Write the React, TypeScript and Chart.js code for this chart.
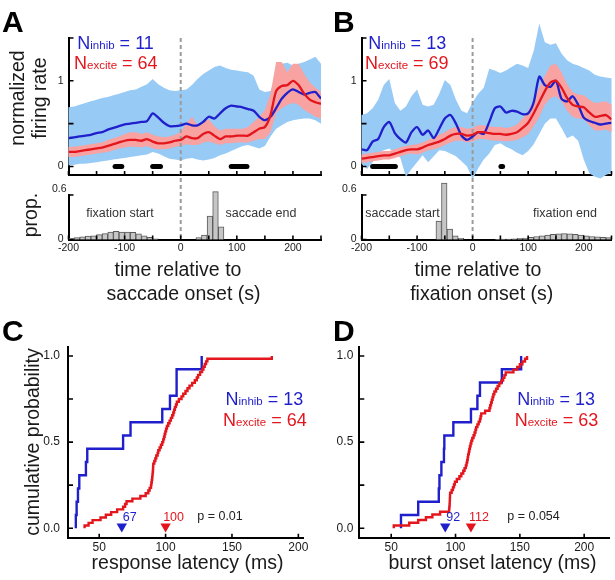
import React, { useEffect, useRef } from "react";
import { Chart, registerables } from "chart.js";

Chart.register(...registerables);

const PAGE_W = 615;
const PAGE_H = 580;
const FONT = '"Liberation Sans", Arial, Helvetica, sans-serif';
Chart.defaults.font.family = FONT;

const BLUE = "#1f1fcc";
const RED = "#e3161d";
const BAND_BLUE = "rgb(152,202,246)";
const BAND_RED = "rgb(248,162,162)";

// ---------------- A / B : population time courses ----------------
const TIME = [-200, -190, -180, -170, -160, -150, -140, -130, -120, -110, -100, -90, -80, -70, -60, -50, -40, -30, -20, -10, 0,
  10, 20, 30, 40, 50, 60, 70, 80, 90, 100, 110, 120, 130, 140, 150, 160, 170, 180, 190, 200, 210, 220, 230, 240, 250];

const INH_A = [0.33, 0.34, 0.35, 0.36, 0.37, 0.39, 0.40, 0.43, 0.45, 0.47, 0.49, 0.50, 0.51, 0.52, 0.53, 0.62, 0.57, 0.51, 0.47, 0.47, 0.48,
  0.50, 0.48, 0.48, 0.52, 0.58, 0.56, 0.62, 0.68, 0.71, 0.70, 0.69, 0.67, 0.65, 0.58, 0.54, 0.58, 0.68, 0.79, 0.86, 0.90, 0.87, 0.84, 0.86, 0.87, 0.79];
const INH_A_HI = [0.69, 0.70, 0.72, 0.74, 0.76, 0.78, 0.80, 0.81, 0.83, 0.85, 0.87, 0.89, 0.90, 0.93, 0.96, 1.02, 0.96, 0.92, 0.89, 0.88, 0.89,
  0.90, 0.95, 1.02, 1.08, 1.12, 1.16, 1.18, 1.15, 1.13, 1.12, 1.11, 1.10, 1.06, 0.90, 0.87, 0.88, 1.05, 1.20, 1.21, 1.18, 1.20, 1.22, 1.25, 1.28, 1.20];
const INH_A_LO = [0.01, 0.02, 0.03, 0.03, 0.04, 0.05, 0.06, 0.07, 0.08, 0.09, 0.10, 0.11, 0.12, 0.13, 0.14, 0.17, 0.15, 0.12, 0.09, 0.08, 0.07,
  0.09, 0.10, 0.08, 0.07, 0.08, 0.10, 0.13, 0.15, 0.18, 0.21, 0.24, 0.25, 0.23, 0.21, 0.24, 0.35, 0.44, 0.48, 0.52, 0.54, 0.55, 0.56, 0.56, 0.54, 0.50];
const EXC_A = [0.17, 0.17, 0.18, 0.19, 0.20, 0.21, 0.22, 0.24, 0.26, 0.28, 0.30, 0.31, 0.31, 0.30, 0.32, 0.29, 0.27, 0.27, 0.28, 0.30, 0.31,
  0.35, 0.33, 0.33, 0.38, 0.40, 0.36, 0.32, 0.35, 0.35, 0.36, 0.36, 0.36, 0.40, 0.44, 0.46, 0.60, 0.88, 0.94, 0.95, 1.00, 0.95, 0.85, 0.78, 0.75, 0.73];
const EXC_A_HI = [0.23, 0.23, 0.24, 0.25, 0.26, 0.27, 0.28, 0.31, 0.33, 0.35, 0.38, 0.40, 0.40, 0.38, 0.40, 0.37, 0.35, 0.34, 0.35, 0.37, 0.40,
  0.50, 0.58, 0.48, 0.52, 0.55, 0.47, 0.42, 0.44, 0.44, 0.44, 0.44, 0.46, 0.52, 0.58, 0.66, 0.85, 1.22, 1.22, 1.10, 1.20, 1.20, 1.08, 0.98, 0.92, 0.87];
const EXC_A_LO = [0.11, 0.11, 0.12, 0.13, 0.14, 0.15, 0.16, 0.17, 0.19, 0.21, 0.22, 0.23, 0.23, 0.22, 0.24, 0.21, 0.20, 0.20, 0.21, 0.23, 0.24,
  0.26, 0.25, 0.25, 0.28, 0.29, 0.27, 0.25, 0.27, 0.27, 0.28, 0.28, 0.28, 0.30, 0.32, 0.32, 0.40, 0.62, 0.68, 0.72, 0.74, 0.72, 0.66, 0.62, 0.58, 0.56];

const INH_B = [0.20, 0.19, 0.29, 0.32, 0.46, 0.52, 0.39, 0.32, 0.28, 0.40, 0.46, 0.37, 0.42, 0.33, 0.44, 0.56, 0.60, 0.50, 0.36, 0.31, 0.35,
  0.40, 0.38, 0.52, 0.68, 0.70, 0.63, 0.65, 0.64, 0.61, 0.62, 0.75, 1.05, 0.95, 0.93, 1.00, 0.79, 0.76, 0.82, 0.72, 0.57, 0.53, 0.51, 0.49, 0.50, 0.51];
const INH_B_HI = [0.60, 0.62, 0.68, 0.78, 0.95, 1.02, 0.74, 0.65, 0.70, 0.82, 0.90, 0.72, 0.70, 0.72, 0.85, 1.01, 0.95, 0.78, 0.65, 0.62, 0.75,
  0.85, 0.92, 1.14, 1.12, 1.09, 1.12, 1.16, 1.20, 1.18, 1.15, 1.35, 1.67, 1.45, 1.42, 1.44, 1.32, 1.24, 1.20, 1.18, 1.15, 1.12, 1.07, 1.05, 1.04, 1.03];
const INH_B_LO = [0.03, -0.03, 0.05, 0.15, 0.19, 0.21, 0.16, 0.10, -0.12, -0.03, 0.05, 0.13, 0.05, 0.12, 0.19, 0.18, 0.15, 0.12, 0.06, 0.00, -0.15,
  -0.02, 0.08, 0.15, 0.25, 0.27, 0.23, 0.20, 0.16, 0.13, 0.18, 0.26, 0.38, 0.50, 0.56, 0.56, 0.45, 0.33, 0.36, 0.30, 0.08, -0.08, -0.12, -0.14, -0.10, -0.07];
const EXC_B = [0.09, 0.10, 0.11, 0.12, 0.13, 0.13, 0.15, 0.17, 0.19, 0.20, 0.20, 0.22, 0.25, 0.27, 0.29, 0.32, 0.36, 0.38, 0.38, 0.36, 0.37,
  0.40, 0.40, 0.39, 0.38, 0.38, 0.37, 0.38, 0.40, 0.45, 0.51, 0.62, 0.75, 0.88, 0.98, 1.00, 0.92, 0.80, 0.72, 0.70, 0.69, 0.63, 0.58, 0.59, 0.60, 0.55];
const EXC_B_HI = [0.14, 0.15, 0.16, 0.17, 0.18, 0.18, 0.20, 0.22, 0.24, 0.25, 0.26, 0.28, 0.31, 0.34, 0.37, 0.40, 0.44, 0.46, 0.46, 0.44, 0.45,
  0.48, 0.48, 0.47, 0.46, 0.46, 0.45, 0.46, 0.49, 0.56, 0.65, 0.78, 0.92, 1.06, 1.18, 1.20, 1.10, 0.96, 0.87, 0.84, 0.83, 0.78, 0.74, 0.75, 0.76, 0.72];
const EXC_B_LO = [0.04, 0.05, 0.06, 0.07, 0.08, 0.08, 0.10, 0.12, 0.14, 0.15, 0.14, 0.16, 0.19, 0.20, 0.22, 0.25, 0.28, 0.30, 0.30, 0.28, 0.29,
  0.32, 0.32, 0.31, 0.30, 0.30, 0.29, 0.30, 0.31, 0.34, 0.38, 0.47, 0.58, 0.72, 0.80, 0.82, 0.76, 0.65, 0.58, 0.56, 0.55, 0.48, 0.42, 0.42, 0.43, 0.40];

// significant-difference epochs (ms)
const SIG_A = [[-117, -105], [-50, -36], [90, 118]];
const SIG_B = [[-180, -139], [51, 54]];
const SIG_Y = 0.0;

// ---------------- histograms ----------------
const HIST_A_T = [-195, -185, -175, -165, -155, -145, -135, -125, -115, -105, -95, -85, -75, -65, -55, -45, 32, 42, 52, 62, 72];
const HIST_A_P = [0.015, 0.025, 0.035, 0.045, 0.05, 0.065, 0.08, 0.1, 0.11, 0.1, 0.1, 0.095, 0.075, 0.05, 0.03, 0.01, 0.027, 0.058, 0.316, 0.645, 0.17];
const HIST_B_T = [-61, -51, -41, -31, -21, 45, 55, 65, 75, 85, 95, 105, 115, 125, 135, 145, 155, 165, 175, 185, 195, 205, 215, 225, 235, 245];
const HIST_B_P = [0.25, 0.76, 0.14, 0.05, 0.015, 0.003, 0.005, 0.007, 0.01, 0.015, 0.02, 0.03, 0.04, 0.05, 0.06, 0.07, 0.075, 0.08, 0.075, 0.07, 0.06, 0.05, 0.04, 0.035, 0.03, 0.025];

// ---------------- C / D : latency distributions (ms) ----------------
const INH_LAT_C = [32.4, 33, 34, 35, 40, 41, 68, 73.6, 97.5, 103.3, 108.3, 108.3, 127.2];
const EXC_LAT_C = [39, 42, 45, 51, 55, 59, 63.5, 68, 69.5, 70.6, 75, 81, 85, 87, 88, 89, 89.3, 89.6, 89.9, 90.1, 90.3, 90.5, 90.6, 90.7,
  91.5, 92.3, 93, 94, 94.5, 95.5, 96.5, 97.5, 98.2, 98.8, 99.3, 99.8, 100.4, 101, 102, 103, 104, 105, 105.8, 106.4, 107, 107.8, 108.5,
  110, 112, 113.3, 115, 116.5, 118, 120, 122, 123.5, 124.5, 126, 127.5, 128.5, 129.5, 130.5, 131.5, 180];
const INH_LAT_D = [57.6, 71, 87, 87.5, 89, 91, 91.3, 98.3, 112, 117, 119, 136, 151];
const EXC_LAT_D = [52, 64, 71, 77, 82, 88, 95, 95.2, 95.4, 95.5, 95.6, 95.7, 95.8, 97, 98, 98.8, 99.5, 101, 103, 104.5, 106, 107, 108,
  108.6, 109.1, 109.5, 109.8, 110.3, 110.7, 111.2, 111.7, 112.3, 113, 114, 114.8, 115.5, 116, 117, 118, 119, 119.5, 120, 123, 126.4,
  127, 127.6, 128.2, 128.8, 129.4, 130.2, 131.5, 132.7, 134, 135.5, 137, 138, 139, 145, 148, 150, 152, 154, 155.6];
const MEDIANS_C = [67, 100];
const MEDIANS_D = [92, 112];
const MARK_Y = 0.01;

// ---------------- tick lists ----------------
const T_TICKS = [-200, -150, -100, -50, 0, 50, 100, 150, 200, 250];
const T_LABELS = [-200, -100, 0, 100, 200];
const RATE_TICKS = [0, 0.5, 1, 1.5];
const RATE_LABELS = [0, 1];
const PROP_TICKS = [0, 0.6];
const LAT_TICKS = [50, 100, 150, 200];
const CUM_TICKS = [0, 0.25, 0.5, 0.75, 1];
const CUM_LABELS = [0, 0.5, 1];

type Area = { left: number; top: number; right: number; bottom: number };
const AREA_A_TOP: Area = { left: 68.5, top: 38, right: 321, bottom: 175 };
const AREA_B_TOP: Area = { left: 361.5, top: 38, right: 611.5, bottom: 175 };
const AREA_A_HIST: Area = { left: 68.5, top: 195, right: 321, bottom: 239.5 };
const AREA_B_HIST: Area = { left: 361.5, top: 195, right: 611.5, bottom: 239.5 };
const AREA_C: Area = { left: 68, top: 346.7, right: 303, bottom: 537.7 };
const AREA_D: Area = { left: 359.3, top: 346.7, right: 613.3, bottom: 537.7 };

// fixed box sizes of the axes so that the plotting area lands exactly on the Area
const Y_AXIS_W = 34;
const X_AXIS_H = 18;

function baseOptions(a: Area) {
  return {
    responsive: false,
    animation: false,
    devicePixelRatio: 1,
    events: [],
    layout: {
      padding: {
        left: a.left - Y_AXIS_W,
        top: a.top,
        right: PAGE_W - a.right,
        bottom: PAGE_H - a.bottom - X_AXIS_H,
      },
    },
    plugins: { legend: { display: false }, tooltip: { enabled: false } },
  };
}

function axis(horizontal: boolean, min: number, max: number, tickVals: number[], show: boolean,
  fmt: (v: number) => string, size: number, pad: number) {
  return {
    type: "linear",
    min,
    max,
    offset: false,
    z: 1,
    grid: { display: false, drawTicks: false },
    border: { display: true, color: "#000", width: 2 },
    ticks: {
      display: show,
      autoSkip: false,
      maxRotation: 0,
      minRotation: 0,
      padding: pad,
      color: "#1a1a1a",
      font: { family: FONT, size },
      callback: (v: number) => fmt(v),
    },
    afterBuildTicks: (ax: any) => {
      ax.ticks = tickVals.map((v) => ({ value: v }));
    },
    afterFit: (ax: any) => {
      if (horizontal) ax.height = X_AXIS_H;
      else ax.width = Y_AXIS_W;
      ax.paddingLeft = 0;
      ax.paddingRight = 0;
      ax.paddingTop = 0;
      ax.paddingBottom = 0;
    },
  };
}

function inwardTicks(xt: number[], yt: number[], len = 4) {
  return {
    id: "inwardTicks",
    afterDraw(chart: any) {
      const { ctx, chartArea: a } = chart;
      const xs = chart.scales.x;
      const ys = chart.scales.y;
      ctx.save();
      ctx.strokeStyle = "#000";
      ctx.lineWidth = 1.6;
      ctx.beginPath();
      for (const v of xt) {
        const px = xs.getPixelForValue(v);
        ctx.moveTo(px, a.bottom);
        ctx.lineTo(px, a.bottom - len);
      }
      for (const v of yt) {
        const py = ys.getPixelForValue(v);
        ctx.moveTo(a.left, py);
        ctx.lineTo(a.left + len + 1, py);
      }
      ctx.stroke();
      ctx.restore();
    },
  };
}

function bandsPlugin(bands: { hi: number[]; lo: number[]; color: string }[], zeroExt: number) {
  return {
    id: "bands",
    beforeDatasetsDraw(chart: any) {
      const { ctx, chartArea: a } = chart;
      const xs = chart.scales.x;
      const ys = chart.scales.y;
      ctx.save();
      for (const b of bands) {
        ctx.beginPath();
        TIME.forEach((t, i) => {
          const px = xs.getPixelForValue(t);
          const py = ys.getPixelForValue(b.hi[i]);
          if (i === 0) ctx.moveTo(px, py);
          else ctx.lineTo(px, py);
        });
        for (let i = TIME.length - 1; i >= 0; i--) {
          ctx.lineTo(xs.getPixelForValue(TIME[i]), ys.getPixelForValue(b.lo[i]));
        }
        ctx.closePath();
        ctx.fillStyle = b.color;
        ctx.fill();
      }
      const zx = xs.getPixelForValue(0);
      ctx.beginPath();
      ctx.setLineDash([4, 3]);
      ctx.strokeStyle = "#9b9b9b";
      ctx.lineWidth = 2;
      ctx.moveTo(zx, a.top);
      ctx.lineTo(zx, a.bottom + zeroExt);
      ctx.stroke();
      ctx.restore();
    },
  };
}

function medianLabels(meds: number[], colors: string[]) {
  return {
    id: "medianLabels",
    afterDatasetsDraw(chart: any) {
      const { ctx } = chart;
      const xs = chart.scales.x;
      const ys = chart.scales.y;
      ctx.save();
      ctx.font = `12.5px ${FONT}`;
      ctx.textAlign = "center";
      ctx.textBaseline = "alphabetic";
      meds.forEach((m, i) => {
        ctx.fillStyle = colors[i];
        ctx.fillText(String(m), xs.getPixelForValue(m) + 8, ys.getPixelForValue(MARK_Y) - 6);
      });
      ctx.restore();
    },
  };
}

const line = (xs: number[], ys: number[]) => ys.map((v, i) => ({ x: xs[i], y: v }));

function topConfig(a: Area, inh: number[], inhHi: number[], inhLo: number[], exc: number[], excHi: number[], excLo: number[], sig: number[][]) {
  return {
    type: "line",
    data: {
      datasets: [
        { data: line(TIME, exc), borderColor: RED, borderWidth: 2.3, pointRadius: 0, tension: 0.25, order: 0 },
        { data: line(TIME, inh), borderColor: BLUE, borderWidth: 2.3, pointRadius: 0, tension: 0.25, order: 1 },
        ...sig.map(([s, e]) => ({
          data: [{ x: s, y: SIG_Y }, { x: e, y: SIG_Y }],
          borderColor: "#000",
          borderWidth: 5,
          borderCapStyle: "round",
          pointRadius: 0,
          order: 2,
        })),
      ],
    },
    options: {
      ...baseOptions(a),
      scales: {
        x: axis(true, -200, 250, [-200, 250], false, (v) => String(v), 10.5, 2),
        y: axis(false, -0.1, 1.5, RATE_LABELS, true, (v) => String(v), 10.5, 5),
      },
    },
    plugins: [
      bandsPlugin([{ hi: inhHi, lo: inhLo, color: BAND_BLUE }, { hi: excHi, lo: excLo, color: BAND_RED }], 65),
      inwardTicks(T_TICKS, RATE_TICKS),
    ],
  };
}

function histConfig(a: Area, centers: number[], vals: number[]) {
  return {
    type: "bar",
    data: {
      datasets: [
        {
          data: line(centers, vals),
          backgroundColor: "#c6c6c6",
          borderColor: "#5a5a5a",
          borderWidth: 1,
          barPercentage: 1,
          categoryPercentage: 1,
          clip: false,
        },
      ],
    },
    options: {
      ...baseOptions(a),
      scales: {
        x: axis(true, -200, 250, T_LABELS, true, (v) => String(v), 10.5, 2),
        y: axis(false, 0, 0.6, [0], true, (v) => String(v), 10.5, 5),
      },
    },
    plugins: [inwardTicks(T_TICKS, PROP_TICKS)],
  };
}

function ecdf(lat: number[]) {
  return [{ x: lat[0], y: 0 }, ...lat.map((l, i) => ({ x: l, y: (i + 1) / lat.length }))];
}

function cdfConfig(a: Area, xmin: number, xmax: number, inhLat: number[], excLat: number[], meds: number[], yPad: number) {
  return {
    type: "line",
    data: {
      datasets: [
        { data: ecdf(excLat), borderColor: RED, borderWidth: 2.4, pointRadius: 0, stepped: "before", order: 1 },
        { data: ecdf(inhLat), borderColor: BLUE, borderWidth: 2.4, pointRadius: 0, stepped: "before", order: 2 },
        {
          data: meds.map((m) => ({ x: m, y: MARK_Y })),
          showLine: false,
          pointStyle: "triangle",
          rotation: 180,
          pointRadius: 6,
          borderWidth: 0,
          pointBackgroundColor: [BLUE, RED],
          pointBorderColor: [BLUE, RED],
          clip: false,
          order: 0,
        },
      ],
    },
    options: {
      ...baseOptions(a),
      scales: {
        x: axis(true, xmin, xmax, LAT_TICKS, true, (v) => String(v), 12, 3),
        y: axis(false, -0.055, 1.054, CUM_LABELS, true, (v) => v.toFixed(1), 12, yPad),
      },
    },
    plugins: [inwardTicks(LAT_TICKS, CUM_TICKS), medianLabels(meds, [BLUE, RED])],
  };
}

function ChartLayer({ make }: { make: () => any }) {
  const ref = useRef<HTMLCanvasElement>(null);
  useEffect(() => {
    if (!ref.current) return;
    const chart = new Chart(ref.current, make());
    return () => chart.destroy();
  }, []);
  return (
    <canvas
      ref={ref}
      width={PAGE_W}
      height={PAGE_H}
      style={{ position: "absolute", left: 0, top: 0, width: PAGE_W, height: PAGE_H }}
    />
  );
}

type TxtProps = {
  x: number;
  y: number;
  size: number;
  color?: string;
  align?: "left" | "center" | "right";
  bold?: boolean;
  children: React.ReactNode;
};
function Txt({ x, y, size, color = "#1a1a1a", align = "left", bold = false, children }: TxtProps) {
  const tx = align === "center" ? "-50%" : align === "right" ? "-100%" : "0";
  return (
    <div
      style={{
        position: "absolute",
        left: x,
        top: y - 0.8465 * size,
        fontFamily: FONT,
        fontSize: size,
        lineHeight: `${size}px`,
        color,
        fontWeight: bold ? 700 : 400,
        whiteSpace: "nowrap",
        transform: `translateX(${tx})`,
      }}
    >
      {children}
    </div>
  );
}

function VTxt({ bx, cy, size, children }: { bx: number; cy: number; size: number; children: React.ReactNode }) {
  return (
    <div
      style={{
        position: "absolute",
        left: bx - 0.3465 * size,
        top: cy,
        fontFamily: FONT,
        fontSize: size,
        lineHeight: `${size}px`,
        color: "#1a1a1a",
        whiteSpace: "nowrap",
        transform: "translate(-50%, -50%) rotate(-90deg)",
      }}
    >
      {children}
    </div>
  );
}

function NLabel({ x, y, color, sub, n, align = "left" }: { x: number; y: number; color: string; sub: string; n: number; align?: "left" | "right" }) {
  return (
    <Txt x={x} y={y} size={18} color={color} align={align}>
      N<span style={{ fontSize: 11.5, lineHeight: "11.5px" }}>{sub}</span> = {n}
    </Txt>
  );
}

export default function App() {
  const TITLE = 19.5;
  return (
    <div style={{ position: "absolute", left: 0, top: 0, width: PAGE_W, height: PAGE_H, background: "#fff", overflow: "hidden" }}>
      <ChartLayer make={() => topConfig(AREA_A_TOP, INH_A, INH_A_HI, INH_A_LO, EXC_A, EXC_A_HI, EXC_A_LO, SIG_A)} />
      <ChartLayer make={() => topConfig(AREA_B_TOP, INH_B, INH_B_HI, INH_B_LO, EXC_B, EXC_B_HI, EXC_B_LO, SIG_B)} />
      <ChartLayer make={() => histConfig(AREA_A_HIST, HIST_A_T, HIST_A_P)} />
      <ChartLayer make={() => histConfig(AREA_B_HIST, HIST_B_T, HIST_B_P)} />
      <ChartLayer make={() => cdfConfig(AREA_C, 26.5, 203.5, INH_LAT_C, EXC_LAT_C, MEDIANS_C, 8)} />
      <ChartLayer make={() => cdfConfig(AREA_D, 25.2, 219.3, INH_LAT_D, EXC_LAT_D, MEDIANS_D, 6)} />

      {/* panel letters */}
      <Txt x={2} y={32} size={30} bold color="#000">A</Txt>
      <Txt x={333} y={32} size={30} bold color="#000">B</Txt>
      <Txt x={2} y={341.5} size={30} bold color="#000">C</Txt>
      <Txt x={333} y={341.5} size={30} bold color="#000">D</Txt>

      {/* N labels */}
      <NLabel x={77.3} y={49.3} color={BLUE} sub="inhib" n={11} />
      <NLabel x={74} y={69.3} color={RED} sub="excite" n={64} />
      <NLabel x={368.3} y={49.3} color={BLUE} sub="inhib" n={13} />
      <NLabel x={365} y={69.3} color={RED} sub="excite" n={69} />
      <NLabel x={303.3} y={405} color={BLUE} sub="inhib" n={13} align="right" />
      <NLabel x={306.7} y={426.7} color={RED} sub="excite" n={64} align="right" />
      <NLabel x={595} y={405} color={BLUE} sub="inhib" n={13} align="right" />
      <NLabel x={598.3} y={426.7} color={RED} sub="excite" n={63} align="right" />

      {/* axis titles */}
      <VTxt bx={25} cy={98} size={TITLE}>normalized</VTxt>
      <VTxt bx={46.5} cy={97.5} size={TITLE}>firing rate</VTxt>
      <VTxt bx={38} cy={215} size={TITLE}>prop.</VTxt>
      <Txt x={178} y={277} size={TITLE} align="center">time relative to</Txt>
      <Txt x={183.5} y={301} size={TITLE} align="center">saccade onset (s)</Txt>
      <Txt x={478} y={277} size={TITLE} align="center">time relative to</Txt>
      <Txt x={481.7} y={301} size={TITLE} align="center">fixation onset (s)</Txt>
      <VTxt bx={40} cy={441.5} size={TITLE}>cumulative probability</VTxt>
      <Txt x={187.5} y={570} size={TITLE} align="center">response latency (ms)</Txt>
      <Txt x={492.5} y={570} size={TITLE} align="center">burst onset latency (ms)</Txt>

      {/* histogram annotations */}
      <Txt x={66.5} y={191.5} size={10.5} align="right">0.6</Txt>
      <Txt x={356.5} y={191.5} size={10.5} align="right">0.6</Txt>
      <Txt x={120} y={217.5} size={12.5} color="#333" align="center">fixation start</Txt>
      <Txt x={261} y={217.5} size={12.5} color="#333" align="center">saccade end</Txt>
      <Txt x={402.5} y={217.3} size={12.5} color="#333" align="center">saccade start</Txt>
      <Txt x={565} y={217.3} size={12.5} color="#333" align="center">fixation end</Txt>

      {/* p values */}
      <Txt x={220} y={520.7} size={12.5} color="#222" align="center">p = 0.01</Txt>
      <Txt x={533.5} y={520.7} size={12.5} color="#222" align="center">p = 0.054</Txt>
    </div>
  );
}
